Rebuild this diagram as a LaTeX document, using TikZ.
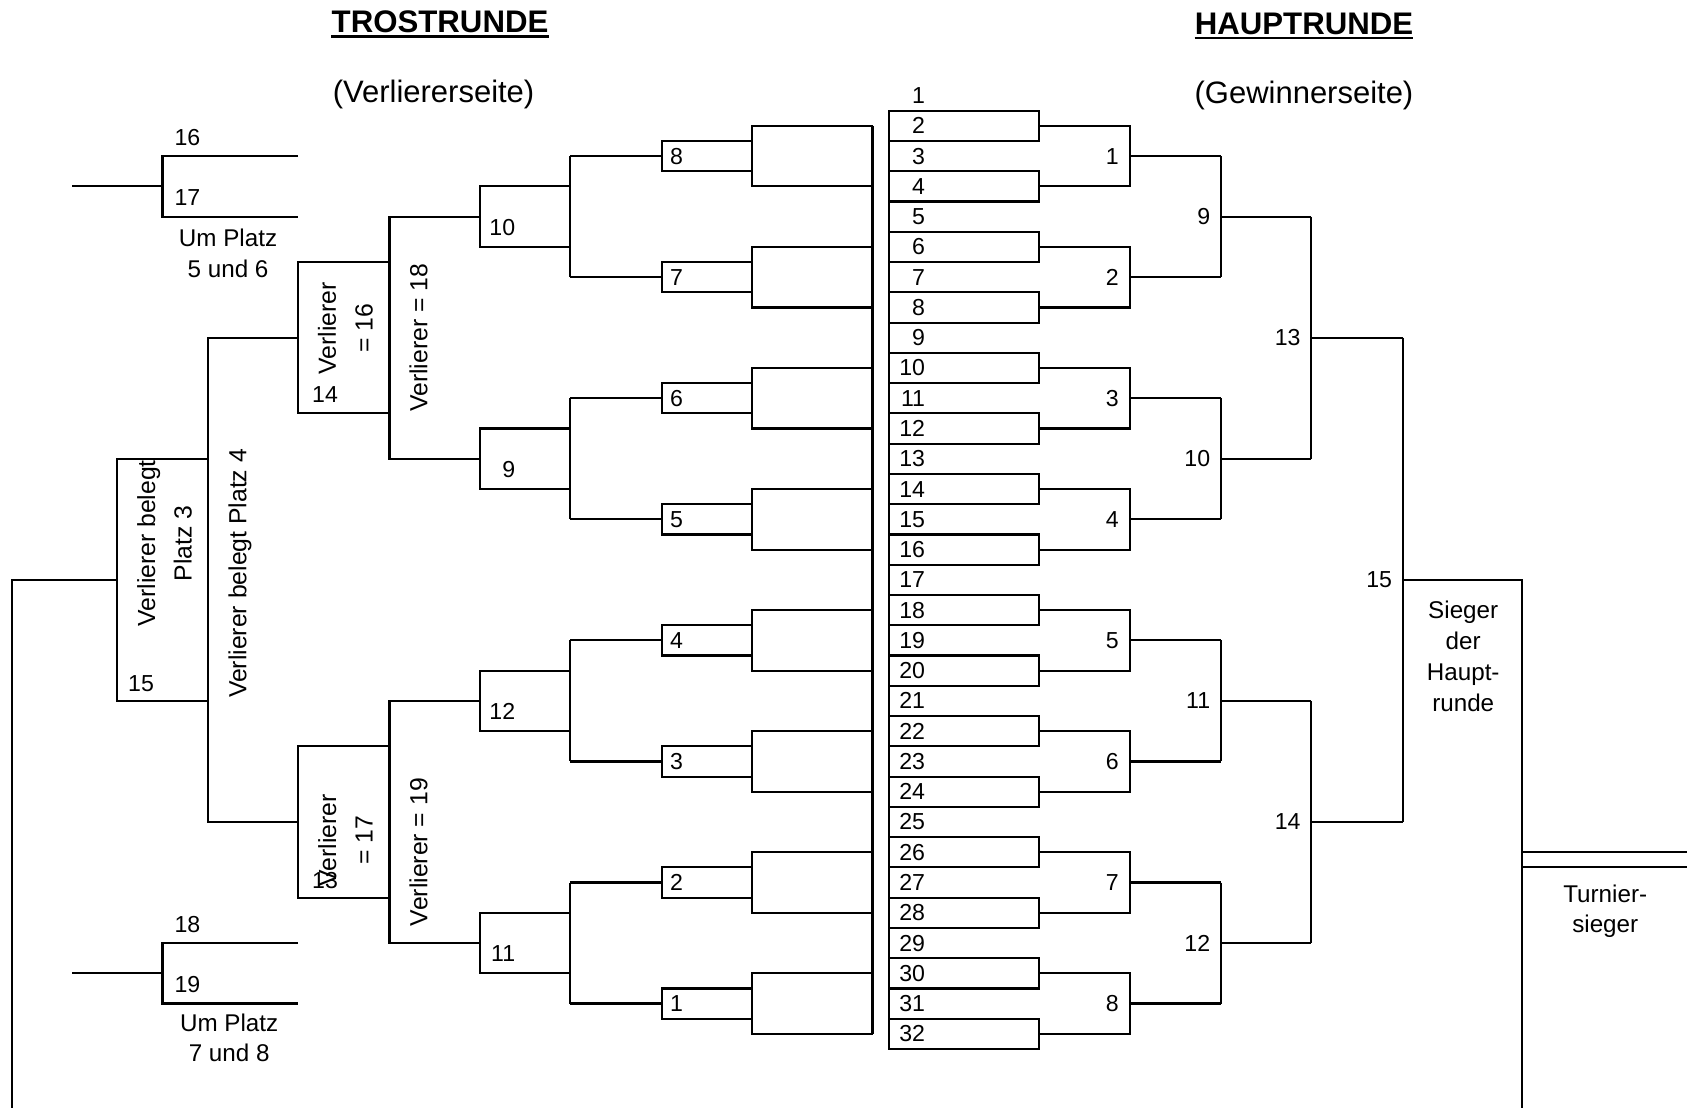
\documentclass[tikz,border=0pt]{standalone}
\usepackage{fontspec}
\setmainfont{Liberation Sans}
\pgfmathdeclarefunction{rw}{1}{\pgfmathparse{60.74+28.13*#1}}
\tikzset{
  ln/.style={line width=2pt},
  num/.style={font=\fontsize{21.5}{26}\selectfont, inner sep=0pt},
  txt/.style={font=\fontsize{22.5}{28}\selectfont, inner sep=0pt, align=center},
  rtxt/.style={font=\fontsize{23}{34}\selectfont, inner sep=0pt, align=center, rotate=90},
  ttl/.style={font=\fontsize{29}{34}\selectfont\bfseries, inner sep=0pt, anchor=base},
  sub/.style={font=\fontsize{28.8}{34}\selectfont, inner sep=0pt}
}
\begin{document}
\begin{tikzpicture}[x=1pt,y=-1pt]
\useasboundingbox (0,0) rectangle (1568,1030);
% titles
\node[ttl] (tro) at (409,30.5) {TROSTRUNDE};
\draw[line width=2.2pt] ([yshift=-3.5pt]tro.base west) -- ([yshift=-3.5pt]tro.base east);
\node[ttl] (hau) at (1212,32) {HAUPTRUNDE};
\draw[line width=2.2pt] ([yshift=-3.5pt]hau.base west) -- ([yshift=-3.5pt]hau.base east);
\node[sub] (vs) at (403,87.5) {(Verliererseite)};
\node[sub] (gs) at (1212,88.5) {(Gewinnerseite)};
% ===== Hauptrunde =====
\draw[ln] (826,{rw(2)-14.07}) -- (826,{rw(32)+14.07});
\foreach \k in {2,4,...,32} \draw[ln] (826,{rw(\k)-14.07}) rectangle (966,{rw(\k)+14.07});
\foreach \k in {1,...,32} \node[num,anchor=east] (c\k) at (860,{rw(\k)}) {\k};
\foreach \m in {1,...,8} {
  \draw[ln] (966,{rw(4*\m-2)}) -| (1050,{rw(4*\m)}) -- (966,{rw(4*\m)});
  \node[num,anchor=east] (w\m) at (1040,{rw(4*\m-1)}) {\m};
  \draw[ln] (1050,{rw(4*\m-1)}) -- (1134.5,{rw(4*\m-1)});
}
\foreach \j/\n in {0/9,1/10,2/11,3/12} {
  \draw[ln] (1134.5,{rw(8*\j+3)}) -- (1134.5,{rw(8*\j+7)});
  \node[num,anchor=east] (w\n) at (1125,{rw(8*\j+5)}) {\n};
  \draw[ln] (1134.5,{rw(8*\j+5)}) -- (1218.6,{rw(8*\j+5)});
}
\foreach \j/\n in {0/13,1/14} {
  \draw[ln] (1218.6,{rw(16*\j+5)}) -- (1218.6,{rw(16*\j+13)});
  \node[num,anchor=east] (w\n) at (1209,{rw(16*\j+9)}) {\n};
  \draw[ln] (1218.6,{rw(16*\j+9)}) -- (1303.7,{rw(16*\j+9)});
}
\draw[ln] (1303.7,{rw(9)}) -- (1303.7,{rw(25)});
\node[num,anchor=east] (w15) at (1294,{rw(17)}) {15};
\draw[ln] (1303.7,{rw(17)}) -| (1415,1030);
\draw[ln] (1415,{rw(26)}) -- (1568,{rw(26)});
\draw[ln] (1415,{rw(26)+14}) -- (1568,{rw(26)+14});
\node[txt,font=\fontsize{22.5}{29}\selectfont] (sieger) at (1360,610) {Sieger\\der\\Haupt-\\runde};
\node[txt] (turnier) at (1492,847) {Turnier-\\sieger};
% ===== Trostrunde =====
\draw[ln] (811,{rw(2)}) -- (811,{rw(32)});
\foreach \j in {0,...,7} {
  \pgfmathtruncatemacro\lab{8-\j}
  \draw[ln] (811,{rw(4*\j+2)}) -| (699,{rw(4*\j+4)}) -- (811,{rw(4*\j+4)});
  \draw[ln] (615,{rw(4*\j+3)-14.07}) rectangle (699,{rw(4*\j+3)+14.07});
  \node[num,anchor=east] (l\lab) at (635,{rw(4*\j+3)}) {\lab};
  \draw[ln] (615,{rw(4*\j+3)}) -- (530,{rw(4*\j+3)});
}
\foreach \j/\n in {0/10,1/9,2/12,3/11} {
  \draw[ln] (530,{rw(8*\j+3)}) -- (530,{rw(8*\j+7)});
  \draw[ln] (446,{rw(8*\j+4)}) rectangle (530,{rw(8*\j+6)});
  \node[num,anchor=base east] (l\n) at (479,{rw(8*\j+6)-11}) {\n};
}
\draw[ln] (446,{rw(5)}) -| (362,{rw(13)}) -- (446,{rw(13)});
\draw[ln] (446,{rw(21)}) -| (362,{rw(29)}) -- (446,{rw(29)});
\draw[ln] (277,{rw(6.5)}) rectangle (362,{rw(11.5)});
\draw[ln] (277,{rw(22.5)}) rectangle (362,{rw(27.5)});
\draw[ln] (277,{rw(9)}) -| (193,{rw(25)}) -- (277,{rw(25)});
\draw[ln] (109,{rw(13)}) rectangle (193,{rw(21)});
\draw[ln] (109,{rw(17)}) -| (11.5,1030);
% places 5-8
\draw[ln] (277,{rw(3)}) -| (151,{rw(5)}) -- (277,{rw(5)});
\draw[ln] (151,{rw(4)}) -- (67,{rw(4)});
\draw[ln] (277,{rw(29)}) -| (151,{rw(31)}) -- (277,{rw(31)});
\draw[ln] (151,{rw(30)}) -- (67,{rw(30)});
\node[num,anchor=base west] (p16) at (162,{rw(3)-10}) {16};
\node[num,anchor=base west] (p17) at (162,{rw(5)-10}) {17};
\node[num,anchor=base west] (p18) at (162,{rw(29)-10}) {18};
\node[num,anchor=base west] (p19) at (162,{rw(31)-10}) {19};
\node[txt] (um56) at (212,235.5) {Um Platz\\5 und 6};
\node[txt] (um78) at (213,964.5) {Um Platz\\7 und 8};
% rotated labels
\node[rtxt] (v16) at (321,305) {Verlierer\\= 16};
\node[num,anchor=west] (l14) at (290,367) {14};
\node[rtxt] (v17) at (321,781) {Verlierer\\= 17};
\node[num,anchor=west] (l13) at (290,818) {13};
\node[rtxt] (v18) at (389,314) {Verlierer = 18};
\node[rtxt] (v19) at (389,792) {Verlierer = 19};
\node[rtxt] (p4) at (223,533) {Verlierer belegt Platz 4};
\node[rtxt] (p3) at (153,505) {Verlierer belegt\\Platz 3};
\node[num,anchor=west] (l15) at (119,635) {15};
\end{tikzpicture}
\end{document}
